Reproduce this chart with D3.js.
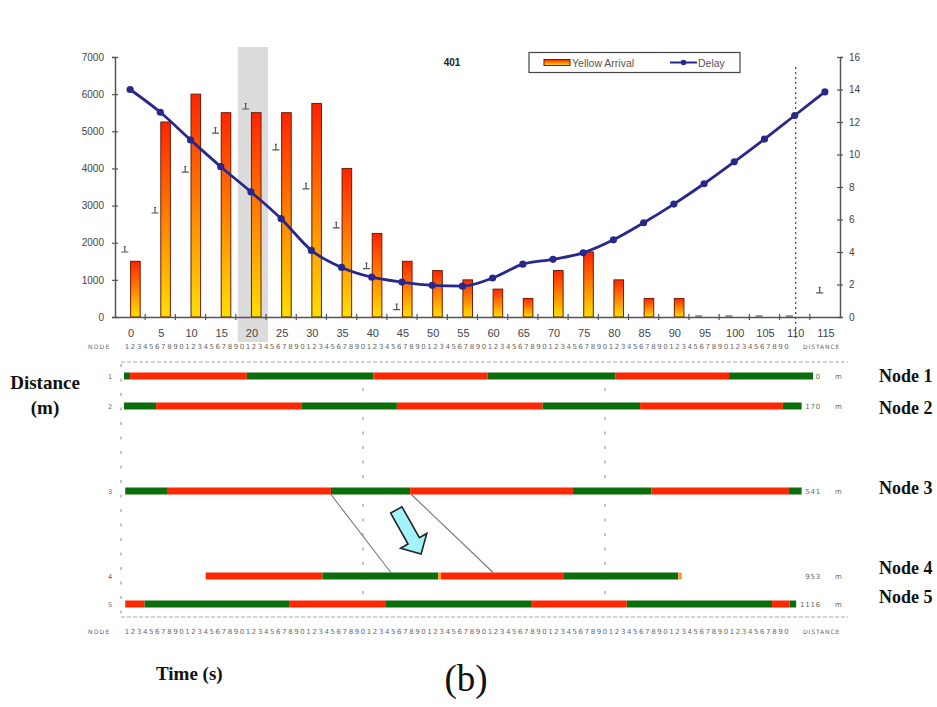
<!DOCTYPE html>
<html>
<head>
<meta charset="utf-8">
<script src="https://cdn.jsdelivr.net/npm/d3@7"></script>
<style>
  body { margin: 0; background: #fff; }
  svg { display: block; }
</style>
</head>
<body>
<svg id="chart" width="937" height="707"></svg>
<script>
// ---- Arrival / delay profile (5 s bins) ----
const categories = [0,5,10,15,20,25,30,35,40,45,50,55,60,65,70,75,80,85,90,95,100,105,110,115];
const yellowArrival = [1500,5250,6000,5500,5500,5500,5750,4000,2250,1500,1250,1000,750,500,1250,1750,1000,500,500,0,0,0,0,0];
const arrivalMarkers = [1750,2800,3900,4950,5600,4500,3450,2400,1300,200,null,null,null,null,null,null,null,null,null,0,0,0,0,650];
const delay = [14,12.6,10.9,9.25,7.7,6.05,4.1,3.05,2.45,2.15,1.95,1.9,2.4,3.25,3.55,3.95,4.75,5.8,6.95,8.2,9.55,10.95,12.4,13.85];
const leftTicks = [0,1000,2000,3000,4000,5000,6000,7000];
const rightTicks = [0,2,4,6,8,10,12,14,16];
const chartTitle = "401";
const highlightCategory = 20;
const markerCategory = 110;
const seriesNames = ["Yellow Arrival", "Delay"];

// ---- Signal timing along the corridor ----
const nodeIds = ["1","2","3","4","5"];
const nodeNames = ["Node 1","Node 2","Node 3","Node 4","Node 5"];
const nodeDistances = [0,170,541,953,1116];
const signalTimes = [
  [0.5, 1.5, 20.8, 41.7, 60.6, 81.7, 100.5, 114.4],
  [0.5, 5.8, 29.8, 45.6, 69.7, 85.8, 109.4, 112.5],
  [0.7, 7.6, 34.7, 47.8, 74.7, 87.7, 110.4, 112.5],
  [14.0, 33.3, 52.4, 52.9, 73.1, 92.1, 92.7],
  [0.7, 3.9, 27.9, 43.8, 67.9, 83.6, 107.6, 110.5, 111.6]
];
const signalPhases = ["GRGRGRG", "GRGRGRG", "GRGRGRG", "RGYRGY", "RGRGRGRG"];
const timeDigits = d3.range(1, 111);
const cycleMarks = [0, 40, 80];
// green band at node 3 carried down to node 4: [time at node 3, time at node 4]
const progressionLinks = [[34.7, 44.6], [48.0, 61.5]];
const arrowFrom = [45.5, 633];
const arrowTo = [49.6, 846];

// ---- layout ----
const svg = d3.select("#chart");
const plotLeft = 115, plotRight = 840, plotTop = 57, plotBottom = 317;
const rowLayout = [376, 406, 491, 576, 604];
const nodeLabelY = [382, 414, 494, 574, 603];
const grey = "#555";
const sans = "Liberation Sans, Arial, sans-serif";
const serif = "Liberation Serif, Times New Roman, serif";

const defs = svg.append("defs");
const grad = defs.append("linearGradient").attr("id", "barGrad")
  .attr("x1", 0).attr("y1", 0).attr("x2", 0).attr("y2", 1);
grad.append("stop").attr("offset", "0%").attr("stop-color", "#ff2400");
grad.append("stop").attr("offset", "50%").attr("stop-color", "#ff8200");
grad.append("stop").attr("offset", "100%").attr("stop-color", "#ffe000");

// ================= top chart =================
const x = d3.scaleBand().domain(categories).range([plotLeft, plotRight])
  .paddingInner(0.3).paddingOuter(0.15);
const step = x.step();
const bw = x.bandwidth();
const cx = c => x(c) + bw / 2;
const sub = d3.scaleBand().domain(["marker", "arrival"]).range([0, bw]);
const yL = d3.scaleLinear().domain([0, 7000]).range([plotBottom, plotTop]);
const yR = d3.scaleLinear().domain([0, 16]).range([plotBottom, plotTop]);

// highlighted bin
svg.append("rect")
  .attr("x", cx(highlightCategory) - step / 2 + 2)
  .attr("y", 47)
  .attr("width", step)
  .attr("height", 342 - 47)
  .attr("fill", "#dcdcdc");

// bars
svg.append("g").selectAll("rect")
  .data(categories.map((c, i) => ({ c, v: yellowArrival[i] })))
  .join("rect")
  .attr("x", d => x(d.c) + sub("arrival") + 0.5)
  .attr("y", d => yL(d.v))
  .attr("width", sub.bandwidth() - 1)
  .attr("height", d => yL(0) - yL(d.v))
  .attr("fill", "url(#barGrad)")
  .attr("stroke", "#6e1a00")
  .attr("stroke-width", 1);

// small tee markers beside the bars
svg.append("g").selectAll("path")
  .data(categories.map((c, i) => ({ c, v: arrivalMarkers[i] })).filter(d => d.v !== null))
  .join("path")
  .attr("d", d => {
    const px = x(d.c) + sub("marker") + sub.bandwidth() / 2, py = yL(d.v);
    return d.v > 0 ? `M${px - 3.5},${py}h7M${px},${py}v-5M${px - 1},${py - 5.5}h2`
                   : `M${px - 3.5},${py - 1}h7`;
  })
  .attr("fill", "none").attr("stroke", "#555").attr("stroke-width", 1.2);

// axes
const axisLeft = svg.append("g").attr("transform", `translate(${plotLeft},0)`)
  .call(d3.axisLeft(yL).tickValues(leftTicks).tickFormat(d3.format("d")).tickSize(3).tickPadding(8));
axisLeft.selectAll(".tick line").attr("x1", 3);
const axisRight = svg.append("g").attr("transform", `translate(${plotRight},0)`)
  .call(d3.axisRight(yR).tickValues(rightTicks).tickFormat(d3.format("d")).tickSize(3).tickPadding(6));
axisRight.selectAll(".tick line").attr("x1", -3);
const axisBottom = svg.append("g").attr("transform", `translate(0,${plotBottom})`)
  .call(d3.axisBottom(x).tickSize(0).tickPadding(12));
axisBottom.selectAll(".tick text").attr("font-size", 11);
[axisLeft, axisRight].forEach(g => g.selectAll(".tick text").attr("font-size", 10));
[axisLeft, axisRight, axisBottom].forEach(g => {
  g.selectAll(".domain").attr("stroke", grey).attr("stroke-width", 1.5);
  g.selectAll(".tick line").attr("stroke", grey).attr("stroke-width", 1.2);
  g.selectAll("text").attr("fill", "#444").attr("font-family", sans);
});
axisBottom.selectAll(".tick text").attr("dx", 1);
// bin boundary ticks on the x axis
svg.append("g").selectAll("line")
  .data(categories.slice(1))
  .join("line")
  .attr("x1", d => cx(d) - step / 2).attr("x2", d => cx(d) - step / 2)
  .attr("y1", plotBottom - 3).attr("y2", plotBottom + 3)
  .attr("stroke", grey).attr("stroke-width", 1.2);

// delay line
const delayPts = categories.map((c, i) => [cx(c), yR(delay[i])]);
svg.append("path")
  .attr("d", d3.line().curve(d3.curveMonotoneX)(delayPts))
  .attr("fill", "none").attr("stroke", "#28288c").attr("stroke-width", 2.8);
svg.append("g").selectAll("circle").data(delayPts).join("circle")
  .attr("cx", d => d[0]).attr("cy", d => d[1]).attr("r", 3.6)
  .attr("fill", "#28288c");

// vertical dotted marker
svg.append("line")
  .attr("x1", cx(markerCategory) + 1).attr("x2", cx(markerCategory) + 1)
  .attr("y1", 67).attr("y2", 338)
  .attr("stroke", "#444").attr("stroke-width", 1.2).attr("stroke-dasharray", "2,3");

// title
svg.append("text").attr("x", 452).attr("y", 66).attr("text-anchor", "middle")
  .attr("font-family", sans).attr("font-size", 10).attr("font-weight", "bold")
  .attr("fill", "#222").text(chartTitle);

// legend
const lg = svg.append("g");
lg.append("rect").attr("x", 529).attr("y", 52.5).attr("width", 211).attr("height", 20)
  .attr("fill", "#fff").attr("stroke", "#444").attr("stroke-width", 1.2);
lg.append("rect").attr("x", 544).attr("y", 59.5).attr("width", 26).attr("height", 6)
  .attr("fill", "url(#barGrad)").attr("stroke", "#6e1a00");
lg.append("text").attr("x", 572).attr("y", 66.5).attr("font-family", sans)
  .attr("font-size", 10.5).attr("fill", "#555").text(seriesNames[0]);
lg.append("line").attr("x1", 670).attr("x2", 697).attr("y1", 62.5).attr("y2", 62.5)
  .attr("stroke", "#28288c").attr("stroke-width", 2);
lg.append("circle").attr("cx", 683.5).attr("cy", 62.5).attr("r", 2.8).attr("fill", "#28288c");
lg.append("text").attr("x", 698).attr("y", 66.5).attr("font-family", sans)
  .attr("font-size", 10.5).attr("fill", "#555").text(seriesNames[1]);

// ================= time–space diagram =================
const t = d3.scaleLinear().domain([0, 110]).range([121, 786.5]);
const rowY = d3.scaleLinear().domain(nodeDistances).range(rowLayout);
const phaseColor = { G: "#0b6e0b", R: "#ff2800", Y: "#ff9a3a" };
const small = "DejaVu Sans, sans-serif";

// time digit rows
[349, 634].forEach(yy => {
  svg.append("g").selectAll("text").data(timeDigits).join("text")
    .attr("x", d => t(d)).attr("y", yy)
    .attr("text-anchor", "middle")
    .attr("font-family", small).attr("font-size", 7).attr("fill", "#666")
    .text(d => d % 10);
  svg.append("text").attr("x", 88).attr("y", yy).attr("font-family", small)
    .attr("font-size", 6).attr("letter-spacing", 1.2).attr("fill", "#666").text("NODE");
  svg.append("text").attr("x", 803).attr("y", yy).attr("font-family", small)
    .attr("font-size", 6).attr("letter-spacing", 0.9).attr("fill", "#666").text("DISTANCE");
});

// dashed frame lines
[362, 617].forEach(yy => {
  svg.append("line").attr("x1", t(0)).attr("x2", 848).attr("y1", yy).attr("y2", yy)
    .attr("stroke", "#aaa").attr("stroke-width", 1).attr("stroke-dasharray", "4,2");
});

// cycle reference lines
svg.append("g").selectAll("line").data(cycleMarks).join("line")
  .attr("x1", d => t(d)).attr("x2", d => t(d))
  .attr("y1", d => d === 0 ? 364 : 388).attr("y2", d => d === 0 ? 616 : 594)
  .attr("stroke", "#888").attr("stroke-width", 1).attr("stroke-dasharray", "3,11.5");

// progression lines between node 3 and node 4
svg.append("g").selectAll("line").data(progressionLinks).join("line")
  .attr("x1", d => t(d[0])).attr("y1", rowY(nodeDistances[2]) + 3.5)
  .attr("x2", d => t(d[1])).attr("y2", rowY(nodeDistances[3]) - 3.5)
  .attr("stroke", "#777").attr("stroke-width", 1.1);

// signal bars
nodeIds.forEach((id, i) => {
  const times = signalTimes[i];
  const phases = signalPhases[i].split("");
  const yy = rowY(nodeDistances[i]);
  svg.append("g").selectAll("rect")
    .data(phases.map((p, k) => ({ p, a: times[k], b: times[k + 1] })))
    .join("rect")
    .attr("x", d => t(d.a)).attr("y", yy - 3.5)
    .attr("width", d => t(d.b) - t(d.a)).attr("height", 7)
    .attr("fill", d => phaseColor[d.p]);
  svg.append("text").attr("x", 110).attr("y", yy + 2.5).attr("font-family", small)
    .attr("font-size", 6.5).attr("fill", "#666").attr("text-anchor", "middle").text(id);
  svg.append("text").attr("x", 821).attr("y", yy + 2.5).attr("font-family", small)
    .attr("font-size", 7).attr("letter-spacing", 0.8).attr("fill", "#666")
    .attr("text-anchor", "end").text(nodeDistances[i]);
  svg.append("text").attr("x", 835).attr("y", yy + 2.5).attr("font-family", small)
    .attr("font-size", 7).attr("fill", "#666").text("m");
  svg.append("text").attr("x", 879).attr("y", nodeLabelY[i]).attr("font-family", serif)
    .attr("font-size", 18).attr("font-weight", "bold").attr("fill", "#111").text(nodeNames[i]);
});

// direction arrow
{
  const x0 = t(arrowFrom[0]), y0 = rowY(arrowFrom[1]);
  const x1 = t(arrowTo[0]), y1 = rowY(arrowTo[1]);
  const L = Math.hypot(x1 - x0, y1 - y0);
  const ang = Math.atan2(y1 - y0, x1 - x0) * 180 / Math.PI;
  const sw = 6.5, hw = 15, hl = 15;
  const pts = [[0, -sw], [L - hl, -sw], [L - hl, -hw], [L, 0], [L - hl, hw], [L - hl, sw], [0, sw]];
  svg.append("path")
    .attr("transform", `translate(${x0},${y0}) rotate(${ang})`)
    .attr("d", "M" + pts.map(p => p.join(",")).join("L") + "Z")
    .attr("fill", "#a4f3fa").attr("stroke", "#222").attr("stroke-width", 1.6)
    .attr("stroke-linejoin", "miter");
}

// axis captions
svg.append("text").attr("x", 45).attr("y", 389).attr("text-anchor", "middle")
  .attr("font-family", serif).attr("font-size", 19).attr("font-weight", "bold")
  .attr("fill", "#111").text("Distance");
svg.append("text").attr("x", 45).attr("y", 414).attr("text-anchor", "middle")
  .attr("font-family", serif).attr("font-size", 19).attr("font-weight", "bold")
  .attr("fill", "#111").text("(m)");
svg.append("text").attr("x", 156).attr("y", 680)
  .attr("font-family", serif).attr("font-size", 19).attr("font-weight", "bold")
  .attr("fill", "#111").text("Time (s)");
svg.append("text").attr("x", 466).attr("y", 691).attr("text-anchor", "middle")
  .attr("font-family", serif).attr("font-size", 37)
  .attr("fill", "#111").text("(b)");
</script>
</body>
</html>
